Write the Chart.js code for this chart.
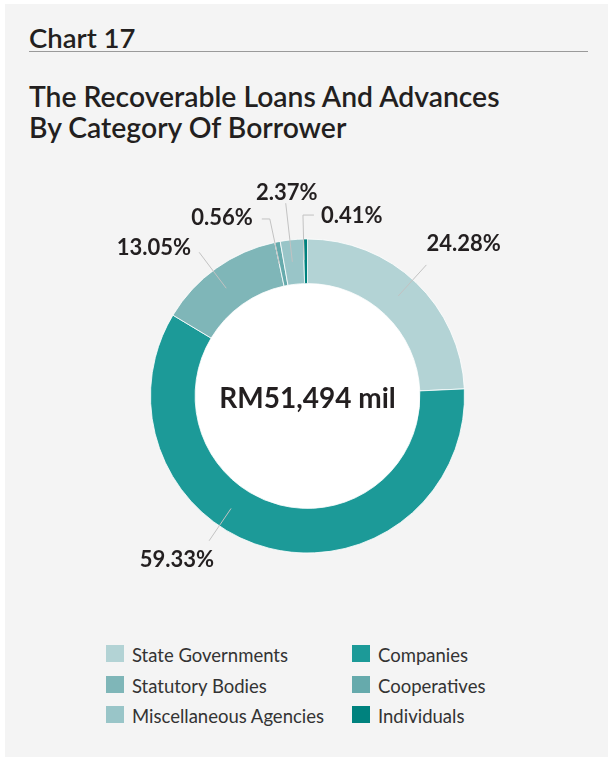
<!DOCTYPE html>
<html>
<head>
<meta charset="utf-8">
<script src="https://cdn.jsdelivr.net/npm/chart.js@4"></script>
<style>
    body { margin: 0; width: 608px; height: 757px; overflow: hidden; background: #fff; font-family: Lato, "Noto Sans", sans-serif; color: #231f20; }
    .panel { position: absolute; left: 5px; top: 4px; right: 0; bottom: 0; background: #f4f4f4; }
    .chart-no { position: absolute; left: 29px; top: 21px; font-size: 27.5px; font-weight: 600; }
    .rule { position: absolute; left: 29px; top: 51px; width: 559px; height: 1px; background: #9a9a9a; }
    .title { position: absolute; left: 29px; top: 81px; font-size: 28.3px; line-height: 31px; font-weight: 600; }
    #wrap { position: absolute; left: 0; top: 160px; width: 608px; height: 472px; }
    .lg-item { position: absolute; height: 18px; font-size: 18.5px; color: #333; white-space: nowrap; }
    .lg-box { position: absolute; left: 0; top: 0; width: 18px; height: 17px; }
    .lg-text { position: absolute; left: 26px; top: 0px; line-height: 20px; }
</style>
</head>
<body>
<div class="panel"></div>
<div class="chart-no">Chart 17</div>
<div class="rule"></div>
<div class="title">The Recoverable Loans And Advances<br>By Category Of Borrower</div>
<div id="wrap"><canvas id="pie"></canvas></div>
<div id="legend"></div>
<script>
// 借款人類別 (clockwise from 12 o'clock)
const categories = ['State Governments', 'Companies', 'Statutory Bodies', 'Cooperatives', 'Miscellaneous Agencies', 'Individuals'];
const shares = [24.28, 59.33, 13.05, 0.56, 2.37, 0.41];
const sliceColors = ['#b3d3d5', '#1c9a98', '#7fb6b8', '#66aaac', '#99c5c8', '#00827e'];
const totalLabel = 'RM51,494 mil';

// leader line placement per slice: angle shift (deg), radii, elbow, text anchor offset
const leaders = [
    { shift: -1.5, r0: 135, r1: 177, elbow: 0,  align: 'left',   dx: 0,  dy: -21 },
    { shift: 20,   r0: 136, r1: 175, elbow: 0,  align: 'right',  dx: 5,  dy: 19 },
    { shift: -1.5, r0: 135, r1: 180, elbow: 0,  align: 'right',  dx: -8, dy: -4 },
    { shift: -1,   r0: 135, r1: 181, elbow: -8, align: 'right',  dx: -9, dy: -1 },
    { shift: -0.7, r0: 135, r1: 194, elbow: 0,  align: 'center', dx: 1,  dy: -10 },
    { shift: -0.7, r0: 136, r1: 181, elbow: 11, align: 'left',   dx: 7,  dy: 1 }
];

// 自訂繪製：白色圓心、引導線與百分比
const doughnutExtras = {
    id: 'doughnutExtras',
    beforeDatasetsDraw(chart) {
        const ctx = chart.ctx;
        const a = chart.getDatasetMeta(0).data[0];
        ctx.save();
        ctx.fillStyle = '#ffffff';
        ctx.beginPath();
        ctx.arc(a.x, a.y, a.innerRadius, 0, Math.PI * 2);
        ctx.fill();
        ctx.restore();
    },
    afterDatasetsDraw(chart) {
        const ctx = chart.ctx;
        const arcs = chart.getDatasetMeta(0).data;
        ctx.save();
        arcs.forEach((arc, i) => {
            const L = leaders[i];
            const ang = (arc.startAngle + arc.endAngle) / 2 + L.shift * Math.PI / 180;
            const x0 = arc.x + Math.cos(ang) * L.r0, y0 = arc.y + Math.sin(ang) * L.r0;
            const x1 = arc.x + Math.cos(ang) * L.r1, y1 = arc.y + Math.sin(ang) * L.r1;
            const x2 = x1 + L.elbow;
            ctx.strokeStyle = '#c2c2c2';
            ctx.lineWidth = 1;
            ctx.beginPath();
            ctx.moveTo(x0, y0);
            ctx.lineTo(x1, y1);
            if (L.elbow) ctx.lineTo(x2, y1);
            ctx.stroke();
            ctx.fillStyle = '#231f20';
            ctx.font = 'bold 22px Lato, "Noto Sans", sans-serif';
            ctx.textAlign = L.align;
            ctx.textBaseline = 'middle';
            ctx.fillText(shares[i].toFixed(2) + '%', x2 + L.dx, y1 + L.dy);
        });
        const a = arcs[0];
        ctx.font = 'bold 28px Lato, "Noto Sans", sans-serif';
        ctx.textAlign = 'center';
        ctx.textBaseline = 'middle';
        ctx.fillText(totalLabel, a.x, a.y + 3);
        ctx.restore();
    }
};

new Chart(document.getElementById('pie'), {
    type: 'doughnut',
    data: {
        labels: categories,
        datasets: [{
            data: shares,
            backgroundColor: sliceColors,
            borderColor: '#ffffff',
            borderWidth: 0.8
        }]
    },
    options: {
        responsive: true,
        maintainAspectRatio: false,
        animation: false,
        radius: 157,
        cutout: '71.6%',
        layout: { padding: { left: 7 } },
        plugins: { legend: { display: false }, tooltip: { enabled: false } }
    },
    plugins: [doughnutExtras]
});

// 圖例：兩欄
const legendEl = document.getElementById('legend');
categories.forEach((c, i) => {
    const item = document.createElement('div');
    item.className = 'lg-item';
    item.style.left = (i % 2 === 0 ? 106 : 352) + 'px';
    item.style.top = (645 + Math.floor(i / 2) * 30.5) + 'px';
    item.innerHTML = `<div class="lg-box" style="background:${sliceColors[i]}"></div><div class="lg-text">${c}</div>`;
    legendEl.appendChild(item);
});
</script>
</body>
</html>
